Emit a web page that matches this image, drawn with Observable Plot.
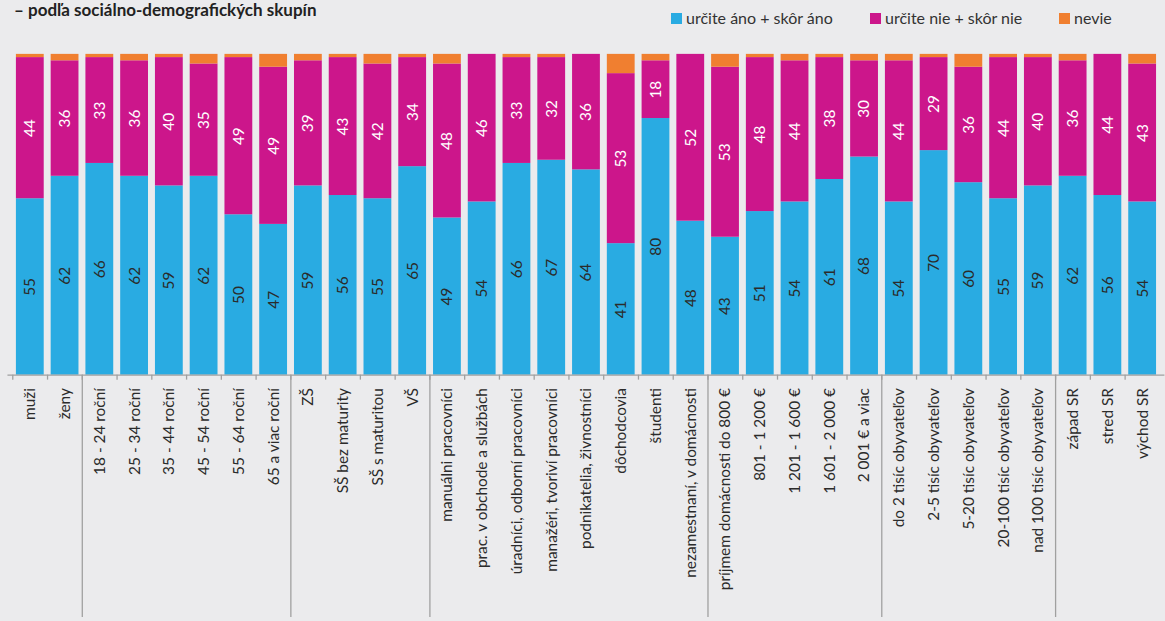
<!DOCTYPE html>
<html>
<head>
<meta charset="utf-8">
<script src="https://cdn.jsdelivr.net/npm/d3@7"></script>
<script src="https://cdn.jsdelivr.net/npm/@observablehq/plot@0.6"></script>
<style>
  html, body { margin: 0; padding: 0; background: #ebebed; overflow: hidden; }
  #wrap { width: 1165px; height: 621px; overflow: hidden; position: relative; font-family: Lato, sans-serif; }
  #header { position: relative; height: 36px; }
  #title { position: absolute; left: 14px; top: 0px; font-size: 17px; line-height: 20px; font-weight: bold; color: #222; white-space: nowrap; }
  .leg { position: absolute; top: 10px; font-size: 16px; line-height: 16px; color: #333; white-space: nowrap; display: flex; align-items: center; }
  .sw { width: 11px; height: 11px; margin-right: 4px; display: inline-block; }
  #chart svg { display: block; }
</style>
</head>
<body>
<div id="wrap">
  <div id="header">
    <div id="title">– podľa sociálno-demografických skupín</div>
    <div id="legend"></div>
  </div>
  <div id="chart"></div>
</div>
<script>
const categories = ["muži","ženy","18 - 24 roční","25 - 34 roční","35 - 44 roční","45 - 54 roční","55 - 64 roční","65 a viac roční","ZŠ","SŠ bez maturity","SŠ s maturitou","VŠ","manuálni pracovníci","prac. v obchode a službách","úradníci, odborní pracovníci","manažéri, tvoriví pracovníci","podnikatelia, živnostníci","dôchodcovia","študenti","nezamestnaní, v domácnosti","príjmem domácnosti do 800 €","801 - 1 200 €","1 201 - 1 600 €","1 601 - 2 000 €","2 001 € a viac","do 2 tisíc obyvateľov","2-5 tisíc obyvateľov","5-20 tisíc obyvateľov","20-100 tisíc obyvateľov","nad 100 tisíc obyvateľov","západ SR","stred SR","východ SR"];
const seriesNames = ["určite áno + skôr áno", "určite nie + skôr nie", "nevie"];
const seriesColors = ["#29abe2", "#cc168b", "#f07f30"];
const yesValues = [55,62,66,62,59,62,50,47,59,56,55,65,49,54,66,67,64,41,80,48,43,51,54,61,68,54,70,60,55,59,62,56,54];
const noValues  = [44,36,33,36,40,35,49,49,39,43,42,34,48,46,33,32,36,53,18,52,53,48,44,38,30,44,29,36,44,40,36,44,43];
const dkValues  = [1,2,1,2,1,3,1,4,2,1,3,1,3,0,1,1,0,6,2,0,4,1,2,1,2,2,1,4,1,1,2,0,3];
const groupStarts = ["18 - 24 roční","ZŠ","manuálni pracovníci","príjmem domácnosti do 800 €","do 2 tisíc obyvateľov","západ SR"];

// legend
const legendLefts = [671, 870, 1059];
const legend = document.getElementById("legend");
seriesNames.forEach((s, i) => {
  const d = document.createElement("div");
  d.className = "leg";
  d.style.left = legendLefts[i] + "px";
  d.innerHTML = `<span class="sw" style="background:${seriesColors[i]}"></span><span>${s}</span>`;
  legend.appendChild(d);
});

const rows = [];
categories.forEach((c, i) => {
  rows.push({cat: c, series: seriesNames[0], value: yesValues[i]});
  rows.push({cat: c, series: seriesNames[1], value: noValues[i]});
  rows.push({cat: c, series: seriesNames[2], value: dkValues[i]});
});

const W = 1173, H = 585, mL = 7.5, mR = 0.6, mT = 18, mB = 244;
const step = (W - mL - mR) / categories.length;
const frameH = H - mT - mB;
const axisColor = "#a0a0a0";

const chart = Plot.plot({
  width: W, height: H,
  marginLeft: mL, marginRight: mR, marginTop: mT, marginBottom: mB,
  style: {background: "transparent", fontFamily: "Lato, sans-serif", overflow: "visible"},
  x: {domain: categories, paddingInner: 0.2, paddingOuter: 0.1, axis: null},
  y: {domain: [0, 100], axis: null},
  color: {domain: seriesNames, range: seriesColors},
  marks: [
    Plot.barY(rows, Plot.stackY({x: "cat", y: "value", z: "series", fill: "series", order: seriesNames})),
    Plot.text(rows, Plot.stackY({
      filter: d => d.series !== seriesNames[2],
      x: "cat", y: "value", z: "series", order: seriesNames,
      text: d => String(d.value), rotate: -90, fontSize: 15.5,
      fill: d => d.series === seriesNames[0] ? "#2b2b2b" : "#ffffff"
    })),
    Plot.ruleY([0], {stroke: axisColor, strokeWidth: 1.3}),
    Plot.ruleX(categories, {x: d => d, dx: -step / 2, stroke: axisColor, strokeWidth: 1.3, insetTop: frameH, insetBottom: -5}),
    Plot.ruleX(groupStarts, {x: d => d, dx: -step / 2, stroke: axisColor, strokeWidth: 1.3, insetTop: frameH, insetBottom: -mB}),
    Plot.axisX({tickRotate: -90, tickSize: 0, tickPadding: 13, fontSize: 15.5, fill: "#2b2b2b", label: null})
  ]
});
document.getElementById("chart").appendChild(chart);
</script>
</body>
</html>
